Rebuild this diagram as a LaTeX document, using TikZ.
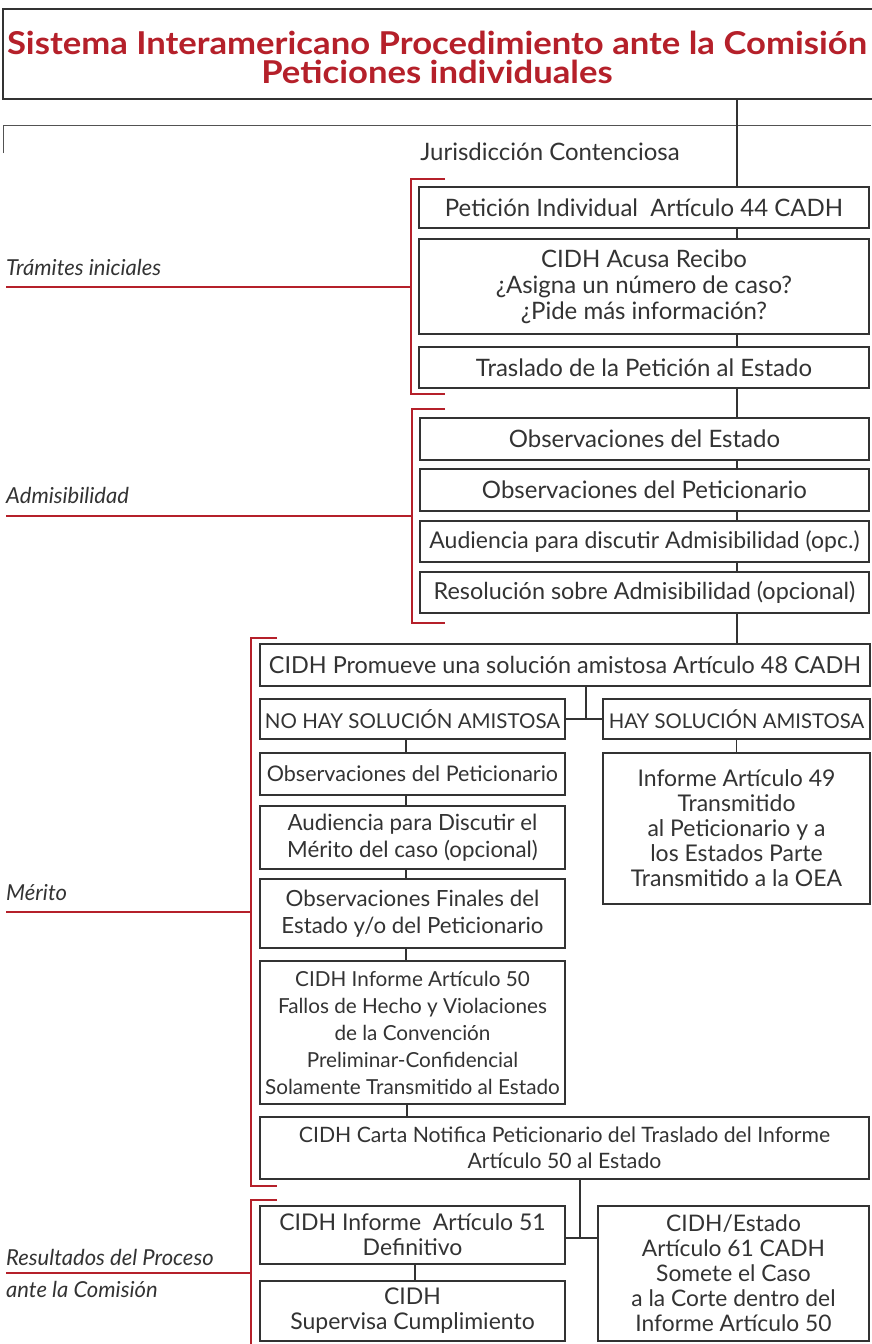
\documentclass[tikz,border=0pt]{standalone}
\usepackage{fontspec}
\setmainfont{Lato}
\newfontfamily\titlefont{Lato}[FakeStretch=1.1]
\definecolor{tred}{HTML}{B5202A}
\definecolor{ink}{HTML}{333333}
\begin{document}
\begin{tikzpicture}[x=1pt,y=-1pt,
  box/.style={draw=ink, line width=1.3pt, rectangle, inner sep=0pt, align=center, text=ink},
  fa/.style={font=\fontsize{24}{26}\selectfont},
  fs/.style={font=\fontsize{#1}{25}\selectfont},
  fm/.style={font=\fontsize{22.3}{26.5}\selectfont},
  link/.style={draw=ink, line width=1.3pt},
  brk/.style={draw=tred, line width=2pt},
  lab/.style={font=\itshape\fontsize{22}{32}\selectfont, text=ink, inner sep=0pt, anchor=base west}]
\useasboundingbox (0,0) rectangle (871,1344);
\fill[white] (0,0) rectangle (871,1344);
% title
\node[draw=ink, line width=2.6pt, minimum width=872, minimum height=90, inner sep=0pt] (title) at (439,54) {};
\node[inner sep=0pt, align=center, text=tred, font=\titlefont\bfseries\fontsize{31.5}{29.5}\selectfont] (ttext) at (437,57.5)
      {Sistema Interamericano Procedimiento ante la Comisión\\Peticiones individuales};
\coordinate (sp) at (737,0);
% thin frame line
\draw[draw=ink!85, line width=1pt] (3,153) -- (3,125) -- (871,125);
\node[fa, text=ink, inner sep=0pt] (jur) at (550,152) {Jurisdicción Contenciosa};
% boxes
\node[box, fa, minimum width=450, minimum height=41] (p1) at (644,207.5) {Petición Individual\ \ Artículo 44 CADH};
\node[box, fa, minimum width=450, minimum height=95] (p2) at (644,286.5) {CIDH Acusa Recibo\\¿Asigna un número de caso?\\¿Pide más información?};
\node[box, fa, minimum width=450, minimum height=41] (p3) at (644,367.5) {Traslado de la Petición al Estado};
\node[box, fa, minimum width=449, minimum height=42] (a1) at (644.5,439) {Observaciones del Estado};
\node[box, fa, minimum width=449, minimum height=42] (a2) at (644.5,490) {Observaciones del Peticionario};
\node[box, fs=23, minimum width=449, minimum height=41] (a3) at (644.5,541.5) {Audiencia para discutir Admisibilidad (opc.)};
\node[box, fs=23.4, minimum width=449, minimum height=41] (a4) at (644.5,592.5) {Resolución sobre Admisibilidad (opcional)};
\node[box, fs=23.4, minimum width=610, minimum height=42] (m0) at (565,665) {CIDH Promueve una solución amistosa Artículo 48 CADH};
\node[box, fs=20.5, minimum width=305, minimum height=40] (mL) at (412.5,719) {NO HAY SOLUCIÓN AMISTOSA};
\node[box, fs=20.3, minimum width=267, minimum height=40] (mR) at (736.5,719) {HAY SOLUCIÓN AMISTOSA};
\node[box, fs=21.5, minimum width=305, minimum height=42] (m1) at (412.5,774) {Observaciones del Peticionario};
\node[box, fs=23, minimum width=267, minimum height=151] (mR2) at (736.5,828.5) {Informe Artículo 49\\Transmitido\\al Peticionario y a\\los Estados Parte\\Transmitido a la OEA};
\node[box, fm, minimum width=305, minimum height=63] (m2) at (412.5,837.5) {Audiencia para Discutir el\\Mérito del caso (opcional)};
\node[box, fm, minimum width=305, minimum height=69] (m3) at (412.5,913.5) {Observaciones Finales del\\Estado y/o del Peticionario};
\node[box, font=\fontsize{20.7}{27}\selectfont, minimum width=305, minimum height=143] (m4) at (412.5,1032.5) {CIDH Informe Artículo 50\\Fallos de Hecho y Violaciones\\de la Convención\\Preliminar-Confidencial\\Solamente Transmitido al Estado};
\node[box, font=\fontsize{21.2}{26}\selectfont, minimum width=609, minimum height=62] (m5) at (564.5,1148) {CIDH Carta Notifica Peticionario del Traslado del Informe\\Artículo 50 al Estado};
\node[box, fs=23, minimum width=305, minimum height=58] (r1) at (412.5,1235) {CIDH Informe\ \ Artículo 51\\Definitivo};
\node[box, fs=23, minimum width=305, minimum height=60] (r2) at (412.5,1311) {CIDH\\Supervisa Cumplimiento};
\node[box, fs=22.8, minimum width=271, minimum height=135] (rR) at (733.5,1273.5) {CIDH/Estado\\Artículo 61 CADH\\Somete el Caso\\a la Corte dentro del\\Informe Artículo 50};
% spine
\draw[link] (title.south -| sp) -- (p1.north -| sp);
\draw[link] (p1.south -| sp) -- (p2.north -| sp);
\draw[link] (p2.south -| sp) -- (p3.north -| sp);
\draw[link] (p3.south -| sp) -- (a1.north -| sp);
\draw[link] (a1.south -| sp) -- (a2.north -| sp);
\draw[link] (a2.south -| sp) -- (a3.north -| sp);
\draw[link] (a3.south -| sp) -- (a4.north -| sp);
\draw[link] (a4.south -| sp) -- (m0.north -| sp);
% split
\coordinate (j1) at (586,719);
\draw[link] (m0.south -| j1) -- (j1);
\draw[link] (mL.east) -- (mR.west);
\draw[link] (mR.south) -- (mR2.north);
\coordinate (cl) at (406,0);
\draw[link] (mL.south -| cl) -- (m1.north -| cl);
\draw[link] (m1.south -| cl) -- (m2.north -| cl);
\draw[link] (m2.south -| cl) -- (m3.north -| cl);
\draw[link] (m3.south -| cl) -- (m4.north -| cl);
\coordinate (cl2) at (407,0);
\draw[link] (m4.south -| cl2) -- (m5.north -| cl2);
\coordinate (j2) at (580,1238);
\draw[link] (m5.south -| j2) -- (j2);
\draw[link] (r1.east |- j2) -- (rR.west |- j2);
\coordinate (cl3) at (415,0);
\draw[link] (r1.south -| cl3) -- (r2.north -| cl3);
% brackets
\draw[brk] (445,179) -- (411,179) -- (411,394) -- (445,394);
\draw[brk] (6,287) -- (411,287);
\draw[brk] (445,409) -- (412,409) -- (412,623) -- (445,623);
\draw[brk] (6,516) -- (412,516);
\draw[brk] (277,638) -- (251,638) -- (251,1186) -- (277,1186);
\draw[brk] (6,912) -- (251,912);
\draw[brk] (277,1200) -- (251,1200) -- (251,1344);
\draw[brk] (6,1273) -- (251,1273);
% labels
\node[lab] (l1) at (6,275) {Trámites iniciales};
\node[lab] (l2) at (6,503) {Admisibilidad};
\node[lab] (l3) at (6,900) {Mérito};
\node[lab] (l4) at (6,1265) {Resultados del Proceso};
\node[lab] (l5) at (6,1297) {ante la Comisión};
\end{tikzpicture}
\end{document}
